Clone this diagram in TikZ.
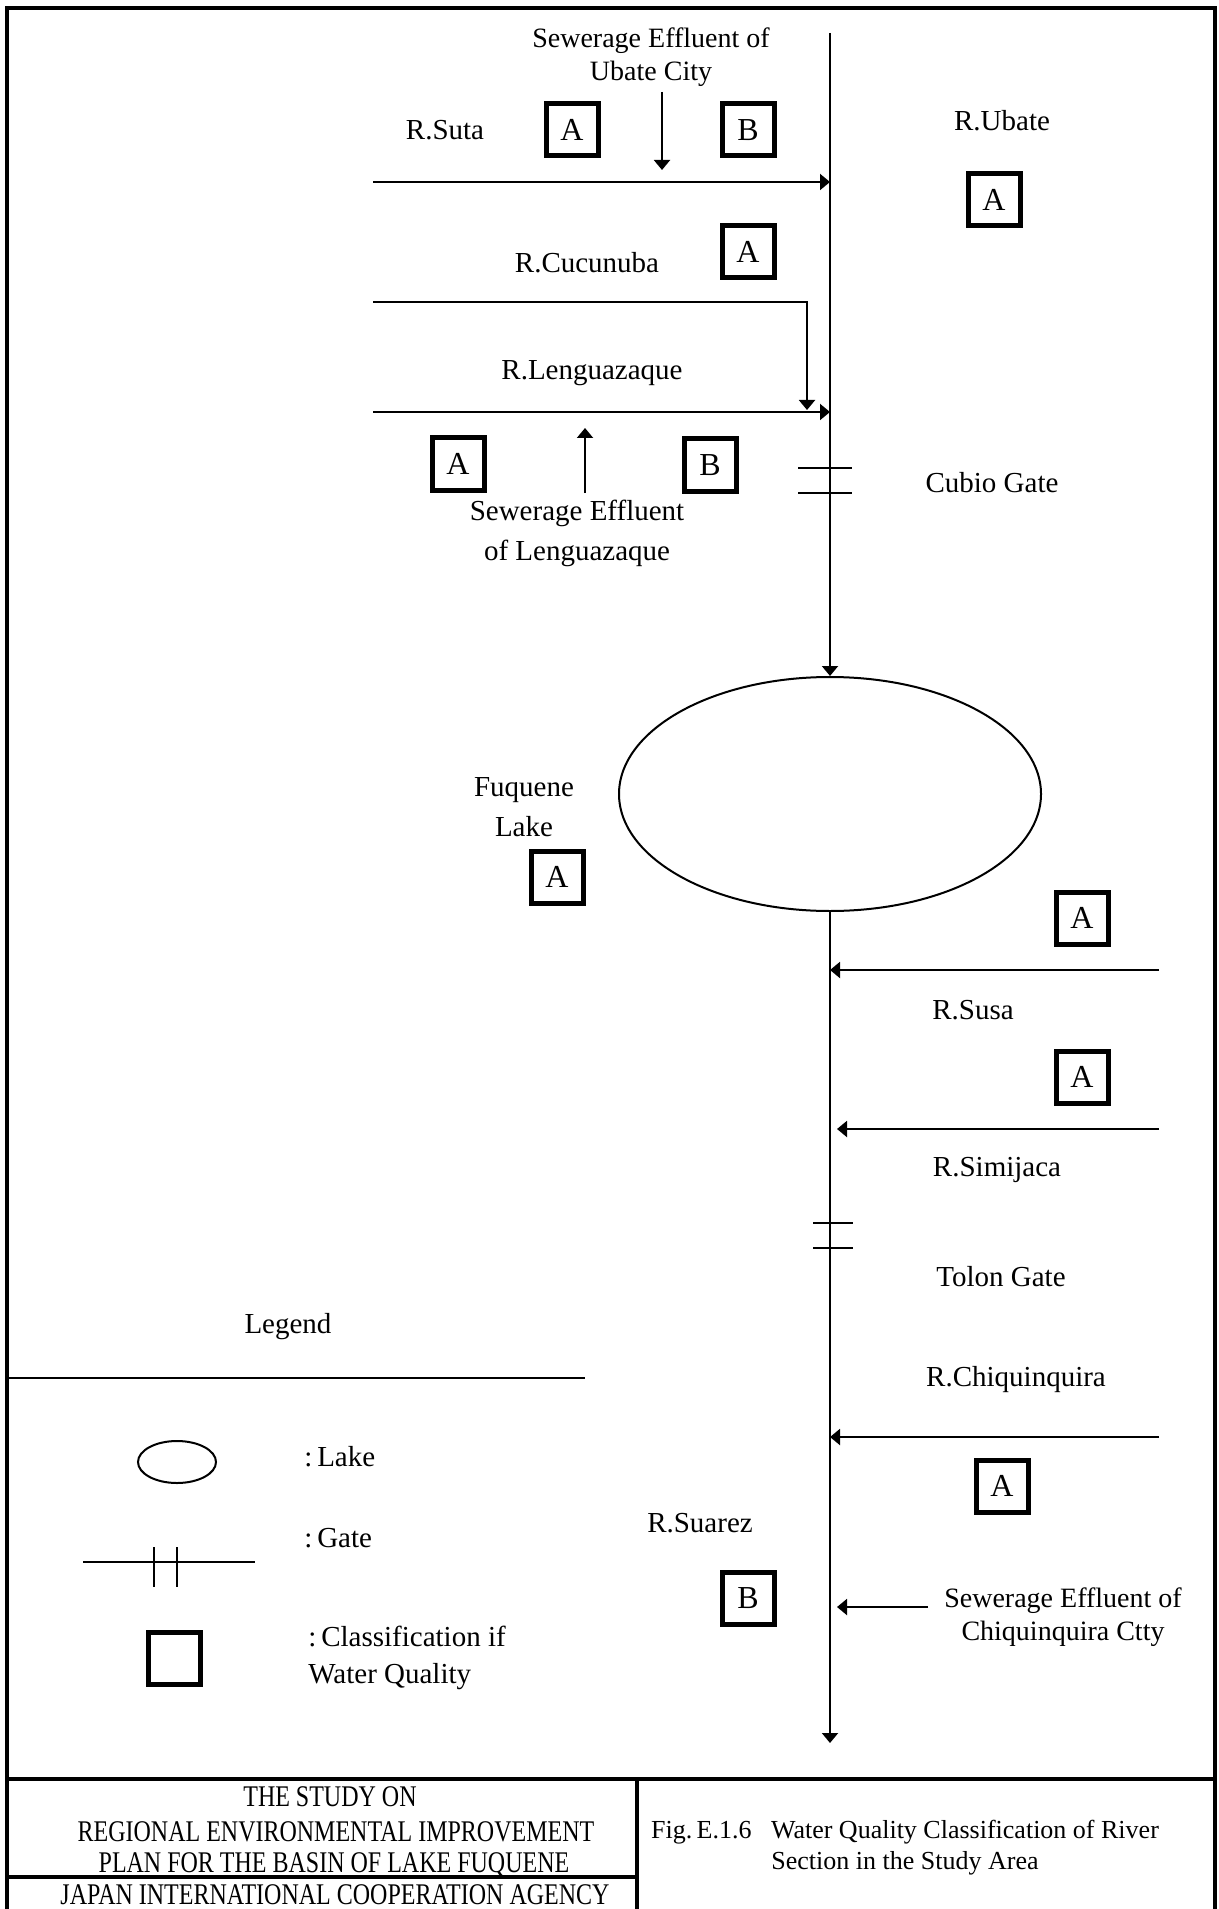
\documentclass[tikz,border=0pt]{standalone}
\usepackage{fontspec}
\setmainfont{Liberation Serif}
\newfontfamily\condensed{Liberation Serif}[FakeStretch=0.8]
\usetikzlibrary{arrows.meta,shapes.geometric}
\begin{document}
\begin{tikzpicture}[x=0.5pt,y=-0.5pt,
  frame/.style={line width=2pt},
  riv/.style={line width=1pt},
  arr/.style={line width=1pt,-{Triangle[length=5pt,width=8pt]}},
  lbl/.style={inner sep=0pt,font=\fontsize{14.5}{20}\selectfont},
  lbls/.style={inner sep=0pt,font=\fontsize{14}{16.5}\selectfont},
  qbox/.style={draw,line width=2.5pt,minimum size=26pt,inner sep=0pt,font=\fontsize{16}{16}\selectfont},
  lakeshape/.style={draw,ellipse,line width=1pt,inner sep=0pt},
  foot/.style={inner sep=0pt,font=\condensed\fontsize{15}{17}\selectfont},
  figt/.style={inner sep=0pt,align=center,font=\fontsize{13}{15.5}\selectfont}]
\useasboundingbox (0,0) rectangle (1219,1909);
% frame
\draw[frame] (7,1930) -- (7,8) -- (1215,8) -- (1215,1930);
\draw[frame] (7,1779) -- (1215,1779);
\draw[frame] (7,1877) -- (637,1877);
\draw[frame] (637,1779) -- (637,1930);
% main river
\coordinate (src) at (830,33);
\coordinate (jSuta) at (830,182);
\coordinate (jLeng) at (830,412);
\node[lakeshape,minimum width=211pt,minimum height=117pt] (lake) at (830,794) {};
\coordinate (mouth) at (830,1743);
\draw[arr] (src) -- (lake.north);
\draw[arr] (lake.south) -- (mouth);
% left tributaries
\coordinate (sutaS) at (373,182);
\draw[arr] (sutaS) -- (jSuta);
\coordinate (cucS) at (373,302);
\coordinate (cucB) at (807,302);
\coordinate (cucE) at (807,410);
\draw[arr] (cucS) -- (cucB) -- (cucE);
\coordinate (lenS) at (373,412);
\draw[arr] (lenS) -- (jLeng);
\coordinate (ubS) at (662,92);
\coordinate (ubE) at (662,170);
\draw[arr] (ubS) -- (ubE);
\coordinate (slS) at (585,493);
\coordinate (slE) at (585,428);
\draw[arr] (slS) -- (slE);
% right tributaries
\coordinate (susS) at (1159,970);
\coordinate (susE) at (830,970);
\draw[arr] (susS) -- (susE);
\coordinate (simS) at (1159,1129);
\coordinate (simE) at (837,1129);
\draw[arr] (simS) -- (simE);
\coordinate (chiS) at (1159,1437);
\coordinate (chiE) at (830,1437);
\draw[arr] (chiS) -- (chiE);
\coordinate (sewS) at (928,1607);
\coordinate (sewE) at (837,1607);
\draw[arr] (sewS) -- (sewE);
% gates
\draw[riv] (798,468) -- (852,468);
\draw[riv] (798,493) -- (852,493);
\draw[riv] (813,1223) -- (853,1223);
\draw[riv] (813,1248) -- (853,1248);
% labels
\node[lbl] (tSuta) at (445,130) {R.Suta};
\node[qbox] (bSutaA) at (572,130) {A};
\node[qbox] (bSutaB) at (748,130) {B};
\node[lbls,align=center] (tSewU) at (651,57) {Sewerage Effluent of\\Ubate City};
\node[lbl] (tUbate) at (1002,121) {R.Ubate};
\node[qbox] (bUbate) at (994,200) {A};
\node[lbl] (tCuc) at (587,263) {R.Cucunuba};
\node[qbox] (bCuc) at (748,252) {A};
\node[lbl] (tLeng) at (592,373) {R.Lenguazaque};
\node[qbox] (bLengA) at (458,464) {A};
\node[qbox] (bLengB) at (710,465) {B};
\node[lbl,align=center] (tSewL) at (577,533) {Sewerage Effluent\\of Lenguazaque};
\node[lbl] (tCubio) at (992,483) {Cubio Gate};
\node[lbl,align=center] (tFuq) at (524,807) {Fuquene\\Lake};
\node[qbox] (bFuq) at (557,877) {A};
\node[qbox] (bSus) at (1082,918) {A};
\node[lbl] (tSus) at (973,1010) {R.Susa};
\node[qbox] (bSim) at (1082,1077) {A};
\node[lbl] (tSim) at (997,1170) {R.Simijaca};
\node[lbl] (tTolon) at (1001,1277) {Tolon Gate};
\node[lbl] (tChi) at (1016,1380) {R.Chiquinquira};
\node[qbox] (bChi) at (1002,1486) {A};
\node[lbl] (tSuarez) at (700,1523) {R.Suarez};
\node[qbox] (bSuarez) at (748,1598) {B};
\node[lbls,align=center] (tSewC) at (1063,1617) {Sewerage Effluent of\\Chiquinquira Ctty};
% legend
\node[lbl] (tLegend) at (288,1327) {Legend};
\draw[riv] (7,1378) -- (585,1378);
\node[lakeshape,minimum width=39pt,minimum height=21pt] (lgLake) at (177,1462) {};
\node[lbl,anchor=west] (tlgLake) at (304,1457) {:\,Lake};
\draw[riv] (83,1562) -- (255,1562);
\draw[riv] (153.5,1547) -- (153.5,1587);
\draw[riv] (177,1547) -- (177,1587);
\node[lbl,anchor=west] (tlgGate) at (304,1538) {:\,Gate};
\node[qbox] (lgBox) at (174,1658) {};
\node[lbl,anchor=west,align=left,font=\fontsize{14.5}{18.5}\selectfont] (tlgClass) at (308,1658) {:\,Classification if\\Water Quality};
% footer
\node[foot] (f1) at (330,1797) {THE STUDY ON};
\node[foot] (f2) at (336,1832) {REGIONAL ENVIRONMENTAL IMPROVEMENT};
\node[foot] (f3) at (334,1865) {PLAN FOR THE BASIN OF LAKE FUQUENE};
\node[foot] (f4) at (335,1895) {JAPAN INTERNATIONAL COOPERATION AGENCY};
\node[figt] (fig) at (905,1848) {Fig.\,E.1.6~~~Water Quality Classification of River\\Section in the Study Area};
\end{tikzpicture}
\end{document}
